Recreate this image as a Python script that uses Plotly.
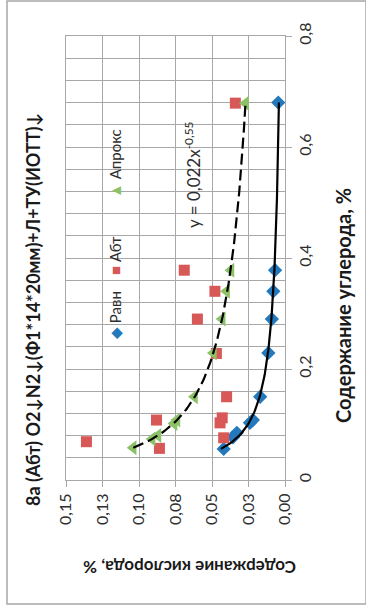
import numpy as np
import plotly.graph_objects as go

# ---- data ----
ravn_c = [0.056, 0.077, 0.085, 0.103, 0.108, 0.150, 0.229, 0.290, 0.340, 0.378, 0.680]
ravn_o = [0.042, 0.0356, 0.033, 0.024, 0.022, 0.017, 0.0114, 0.009, 0.008, 0.0068, 0.0046]

abt_c = [0.057, 0.069, 0.076, 0.103, 0.108, 0.112, 0.150, 0.228, 0.290, 0.340, 0.378, 0.679]
abt_o = [0.086, 0.136, 0.042, 0.0445, 0.088, 0.043, 0.040, 0.047, 0.060, 0.048, 0.069, 0.034]

aprox_c = [0.058, 0.074, 0.080, 0.102, 0.108, 0.150, 0.229, 0.290, 0.340, 0.378, 0.679]
aprox_o = [0.104, 0.091, 0.087, 0.076, 0.074, 0.062, 0.049, 0.043, 0.040, 0.037, 0.027]

o_tickvals = [0.0, 0.025, 0.05, 0.075, 0.10, 0.125, 0.15]
o_ticktext = ["0,00", "0,03", "0,05", "0,08", "0,10", "0,13", "0,15"]
c_tickvals = [0.0, 0.2, 0.4, 0.6, 0.8]
c_ticktext = ["0", "0,2", "0,4", "0,6", "0,8"]

title_text = "8а (Абт) O2↓N2↓(Ф1*14*20мм)+Л+TУ(ИОТТ)↓"
c_title = "Содержание углерода, %"
o_title = "Содержание кислорода, %"
equation = "y = 0,022x<sup>-0,55</sup>"
names = ["Равн", "Абт", "Апрокс"]

BLUE = "#2478BC"
RED = "#D85858"
GREEN = "#8CC167"
GRID = "#A8A8A8"
TXT = "#2E2E2E"
FONT = "Lato, 'Open Sans', sans-serif"


def power_fit(c, o):
    c = np.asarray(c)
    o = np.asarray(o)
    b, ln_a = np.polyfit(np.log(c), np.log(o), 1)
    cc = np.linspace(c.min(), c.max(), 200)
    return cc, np.exp(ln_a) * cc ** b


fig = go.Figure()
fig.add_trace(go.Scatter(x=ravn_o, y=ravn_c, mode="markers", name=names[0],
                         marker=dict(symbol="diamond", size=11, color=BLUE)))
fig.add_trace(go.Scatter(x=abt_o, y=abt_c, mode="markers", name=names[1],
                         marker=dict(symbol="square", size=11, color=RED)))
fig.add_trace(go.Scatter(x=aprox_o, y=aprox_c, mode="markers", name=names[2],
                         marker=dict(symbol="triangle-left", size=13, color=GREEN)))

cc, oo = power_fit(ravn_c, ravn_o)
fig.add_trace(go.Scatter(x=oo, y=cc, mode="lines", line=dict(color="black", width=2.2),
                         showlegend=False))
cc, oo = power_fit(aprox_c, aprox_o)
fig.add_trace(go.Scatter(x=oo, y=cc, mode="lines",
                         line=dict(color="black", width=2.2, dash="11px,5px"),
                         showlegend=False))

L, R, T, B = 66, 81, 36, 130
W, H = 366, 610
pw, ph = W - L - R, H - T - B


def px(x):
    return (x - L) / pw


def py(y):
    return (H - B - y) / ph


ann = []
ann.append(dict(text="<b>" + title_text + "</b>", x=px(33), y=py(310), textangle=-90,
                font=dict(size=18, color="#1a1a1a", family=FONT)))
ann.append(dict(text="<b>" + c_title + "</b>", x=px(343), y=py(306), textangle=-90,
                font=dict(size=20, color="#1a1a1a", family=FONT)))
ann.append(dict(text="<b>" + o_title + "</b>", x=px(190), y=py(568), textangle=180,
                font=dict(size=17, color="#1a1a1a", family=FONT)))
ann.append(dict(text=equation, x=px(192), y=py(175), textangle=-90,
                font=dict(size=17, color=TXT, family=FONT)))
ann.append(dict(text="<span style='color:%s'>◆</span> %s" % (BLUE, names[0]),
                x=px(115), y=py(315), textangle=-90, font=dict(size=15, color=TXT, family=FONT)))
ann.append(dict(text="<span style='color:%s'>■</span> %s" % (RED, names[1]),
                x=px(115), y=py(256), textangle=-90, font=dict(size=15, color=TXT, family=FONT)))
ann.append(dict(text="<span style='color:%s'>▲</span> %s" % (GREEN, names[2]),
                x=px(115), y=py(164), textangle=-90, font=dict(size=15, color=TXT, family=FONT)))
for a in ann:
    a.update(xref="paper", yref="paper", showarrow=False, xanchor="center", yanchor="middle")

fig.update_layout(
    width=W, height=H,
    margin=dict(l=L, r=R, t=T, b=B),
    paper_bgcolor="white", plot_bgcolor="white",
    showlegend=False,
    annotations=ann,
    shapes=[dict(type="rect", xref="paper", yref="paper",
                 x0=px(7), x1=px(366), y0=py(604), y1=py(1),
                 line=dict(color="#A8A8A8", width=1.5))],
    font=dict(family=FONT, color=TXT),
)
fig.update_xaxes(range=[0.15, 0.0], tickmode="array", tickvals=o_tickvals, ticktext=o_ticktext,
                 tickangle=-90, tickfont=dict(size=16, color=TXT), automargin=False,
                 showgrid=True, gridcolor=GRID, gridwidth=1.3, zeroline=False,
                 showline=True, linecolor=GRID, linewidth=1.3, mirror=True,
                 ticks="outside", ticklen=6, tickcolor=GRID)
fig.update_yaxes(range=[0, 0.8], side="right", tickmode="array", tickvals=c_tickvals,
                 ticktext=c_ticktext, tickangle=-90, tickfont=dict(size=16, color=TXT),
                 automargin=False,
                 showgrid=True, gridcolor=GRID, gridwidth=1.3, zeroline=False,
                 showline=True, linecolor=GRID, linewidth=1.3, mirror=True,
                 ticks="outside", ticklen=6, tickcolor=GRID,
                 minor=dict(tickmode="linear", tick0=0, dtick=0.04, showgrid=True,
                            gridcolor=GRID, gridwidth=1.3, ticks=""))

fig.write_html("out.html", config={"displayModeBar": False},
               post_script="document.body.style.margin='0';document.body.style.overflow='hidden';")
